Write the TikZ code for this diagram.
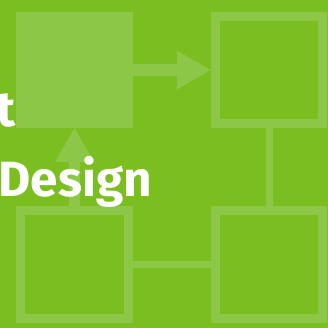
\documentclass[tikz,border=0pt]{standalone}
\usepackage{fontspec}
\setmainfont{Fira Sans}
\usepackage{tikz}
\usetikzlibrary{arrows.meta}
\definecolor{bggreen}{RGB}{122,190,32}
\definecolor{lightgreen}{RGB}{141,199,72}

\begin{document}
\begin{tikzpicture}[x=1pt,y=-1pt,
        box/.style={draw=lightgreen,line width=9pt,minimum size=107.5pt,inner sep=0pt},
        link/.style={draw=lightgreen,line width=7pt},
        flow/.style={draw=lightgreen,line width=11.5pt,-{Triangle[length=34pt,width=39pt,line width=0pt]}},
        title/.style={white,inner sep=0pt,font=\fontsize{49.5}{69}\bfseries}]
        \useasboundingbox[fill=bggreen] (0,0) rectangle (328,328);
        \node[fill=lightgreen,minimum width=117pt,minimum height=116pt,inner sep=0pt,outer sep=0pt] (plan) at (74.5,70) {};
        \node[box] (tr) at (269,70) {};
        \node[box] (bl) at (74.5,264.5) {};
        \node[box] (br) at (269,264.5) {};
        \draw[flow] (plan) -- (tr);
        \draw[flow] (bl) -- (plan);
        \draw[link] (tr) -- (br);
        \draw[link] (bl) -- (br);
        \node[title,anchor=base east] (tword) at (15.7,127) {t};
        \node[title,anchor=base west] (design) at (-1.5,196) {Design};
    \end{tikzpicture}
\end{document}
